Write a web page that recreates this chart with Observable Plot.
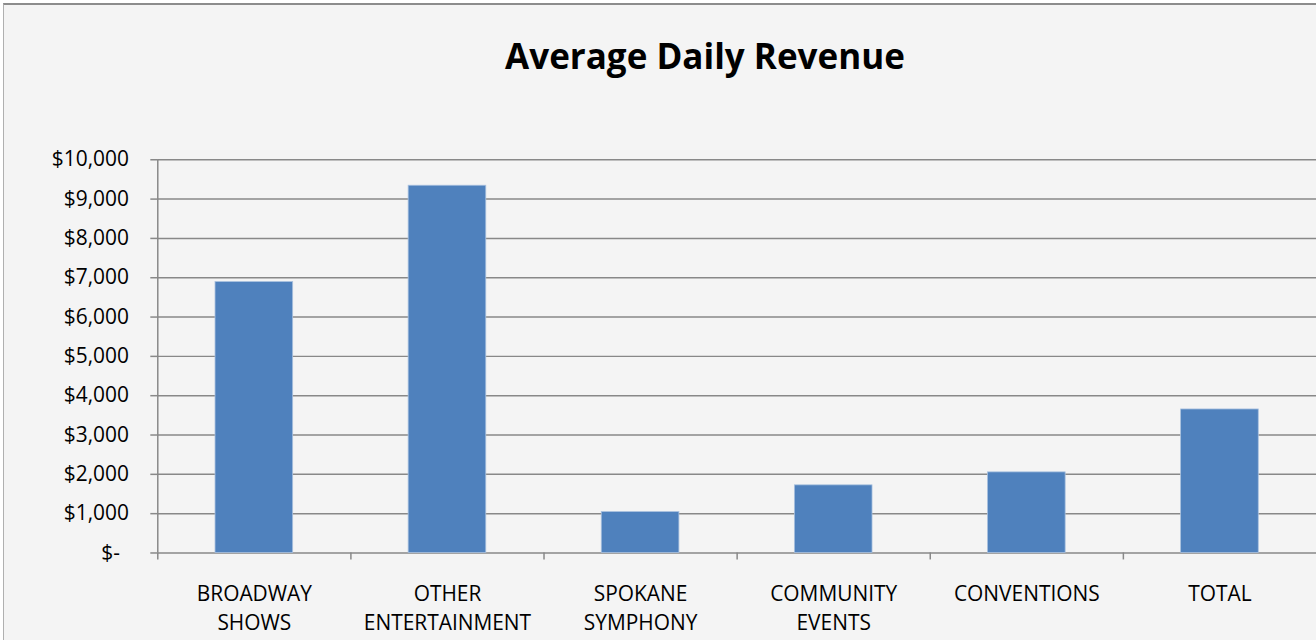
<!DOCTYPE html>
<html>
<head>
<meta charset="utf-8">
<script src="https://cdn.jsdelivr.net/npm/d3@7"></script>
<script src="https://cdn.jsdelivr.net/npm/@observablehq/plot@0.6"></script>
<style>
  html, body { margin: 0; padding: 0; background: #ffffff; overflow: hidden; width: 1316px; height: 640px; }
  #frame { position: absolute; left: 3px; top: 3px; width: 1420px; height: 700px; background: #f4f4f4;
           border-top: 2px solid #8c8c8c; border-left: 1px solid #b0b0b0; }
  #title { position: absolute; left: 0; top: 38px; width: 1410px; text-align: center; line-height: 1;
           font-family: "Open Sans", Lato, sans-serif; font-weight: bold; font-size: 35px; color: #000; }
  #chart { position: absolute; left: 0; top: 0; }
  #chart svg { display: block; }
</style>
</head>
<body>
<div id="frame"></div>
<div id="title">Average Daily Revenue</div>
<div id="chart"></div>
<script>
const categories = ["BROADWAY\nSHOWS", "OTHER\nENTERTAINMENT", "SPOKANE\nSYMPHONY", "COMMUNITY\nEVENTS", "CONVENTIONS", "TOTAL"];
const revenue = [6890, 9340, 1040, 1720, 2050, 3650];
const yTicks = [0, 1000, 2000, 3000, 4000, 5000, 6000, 7000, 8000, 9000, 10000];
const yTickLabels = ["$-", "$1,000", "$2,000", "$3,000", "$4,000", "$5,000", "$6,000", "$7,000", "$8,000", "$9,000", "$10,000"];

const data = categories.map((c, i) => ({category: c, value: revenue[i]}));

const W = 1322, marginLeft = 158, marginRight = 0;
const step = (W - marginLeft - marginRight) / categories.length;
const gridColor = "#888888";

const chart = Plot.plot({
  width: W,
  height: 640,
  marginTop: 160,
  marginBottom: 85,
  marginLeft,
  marginRight,
  style: {fontFamily: "'Open Sans', Lato, sans-serif", fontSize: "21px", background: "transparent", color: "#000"},
  x: {domain: categories, paddingInner: 0.6, paddingOuter: 0.3, label: null},
  y: {domain: [0, 10000], label: null},
  marks: [
    Plot.gridY(yTicks, {stroke: gridColor, strokeOpacity: 1, strokeWidth: 1.5}),
    Plot.ruleX([categories[0]], {dx: -step / 2, stroke: gridColor, strokeWidth: 1.5}),
    Plot.barY(data, {x: "category", y: "value", fill: "#4f81bd", stroke: "#a9c1df", strokeWidth: 0.8}),
    Plot.axisX({tickSize: 7, dx: -step / 2, tickFormat: () => "", stroke: gridColor, strokeWidth: 1.5, label: null}),
    Plot.axisX({tickSize: 0, tickPadding: 27, lineHeight: 1.4, tickFormat: d => d, label: null, fill: "#000"}),
    Plot.axisY(yTicks.slice(1), {tickSize: 7, tickPadding: 22, tickFormat: (d) => yTickLabels[yTicks.indexOf(d)], stroke: gridColor, strokeWidth: 1.5, label: null, fill: "#000"}),
    Plot.axisY([0], {tickSize: 7, tickPadding: 31, tickFormat: () => yTickLabels[0], stroke: gridColor, strokeWidth: 1.5, label: null, fill: "#000"})
  ]
});
document.getElementById("chart").appendChild(chart);
</script>
</body>
</html>
